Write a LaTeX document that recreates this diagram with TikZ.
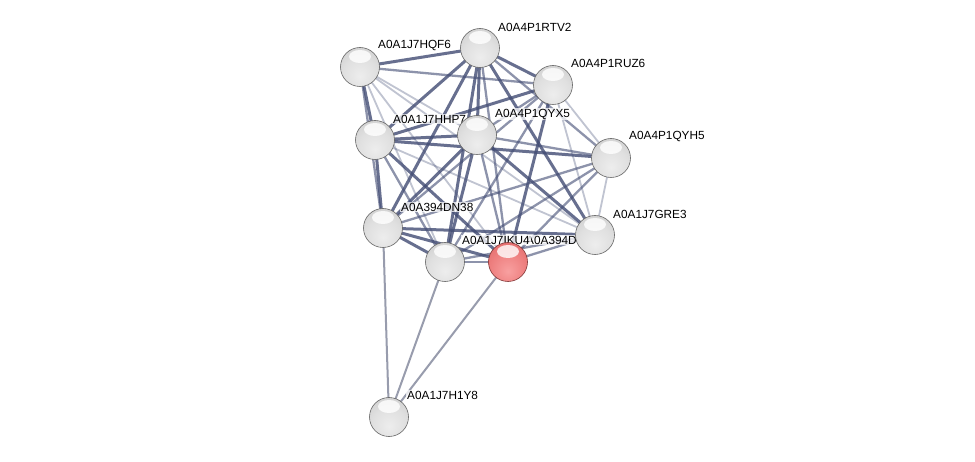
\documentclass[tikz,border=0pt]{standalone}
\usepackage{fontspec}
\setmainfont{Liberation Sans}
\pgfdeclareradialshading{greyball}{\pgfpoint{0bp}{-12bp}}{color(0bp)=(gray!14); color(22bp)=(gray!25); color(42bp)=(gray!42); color(54bp)=(gray!55); color(61bp)=(gray!70); color(100bp)=(gray!78)}
\pgfdeclareradialshading{redball}{\pgfpoint{0bp}{-12bp}}{color(0bp)=({rgb,255:red,248;green,160;blue,160}); color(22bp)=({rgb,255:red,238;green,128;blue,128}); color(42bp)=({rgb,255:red,222;green,100;blue,100}); color(54bp)=({rgb,255:red,200;green,84;blue,84}); color(61bp)=({rgb,255:red,165;green,62;blue,62}); color(100bp)=({rgb,255:red,145;green,52;blue,52})}
\begin{document}
\begin{tikzpicture}[x=1pt,y=-1pt]
\definecolor{edgecol}{RGB}{66,76,116}
\tikzset{
  prot/.style={circle,minimum size=39pt,inner sep=0pt,shading=greyball,draw=gray!80!black,line width=0.6pt},
  query/.style={prot,shading=redball,draw={rgb,255:red,130;green,55;blue,55}},
  hl/.style={fill=white,fill opacity=0.8},
  lbl/.style={anchor=west,font=\fontsize{11.8}{13}\selectfont,fill=white,fill opacity=0.75,text opacity=1,inner sep=1pt},
  es/.style={draw=edgecol,line width=3pt,draw opacity=0.8},
  em/.style={draw=edgecol,line width=2.3pt,draw opacity=0.6},
  ew/.style={draw=edgecol,line width=1.8pt,draw opacity=0.33},
  eh/.style={draw=edgecol!70!gray,line width=2pt,draw opacity=0.6}
}
\useasboundingbox (0,0) rectangle (975,462);
\fill[white] (0,0) rectangle (975,462);
% coordinates of centres
\coordinate (hqf6) at (360,67);
\coordinate (rtv2) at (480,48);
\coordinate (ruz6) at (553,85);
\coordinate (hhp7) at (375,140);
\coordinate (qyx5) at (477,135);
\coordinate (qyh5) at (611,158);
\coordinate (dn38) at (383,228);
\coordinate (gre3) at (595,235);
\coordinate (iku4) at (445,262);
\coordinate (redn) at (508,262);
\coordinate (h1y8) at (389,417);
% edges
\draw[ew] (hqf6) -- (qyx5);
\draw[ew] (hqf6) -- (iku4);
\draw[ew] (hqf6) -- (redn);
\draw[ew] (hqf6) -- (gre3);
\draw[ew] (ruz6) -- (qyh5);
\draw[ew] (ruz6) -- (gre3);
\draw[ew] (hhp7) -- (gre3);
\draw[ew] (qyh5) -- (gre3);
\draw[em] (hqf6) -- (ruz6);
\draw[em] (hqf6) -- (dn38);
\draw[em] (rtv2) -- (redn);
\draw[em] (rtv2) -- (qyh5);
\draw[em] (ruz6) -- (qyx5);
\draw[em] (ruz6) -- (dn38);
\draw[em] (ruz6) -- (iku4);
\draw[em] (hhp7) -- (iku4);
\draw[em] (qyx5) -- (qyh5);
\draw[em] (qyx5) -- (redn);
\draw[em] (qyh5) -- (dn38);
\draw[em] (qyh5) -- (iku4);
\draw[em] (qyh5) -- (redn);
\draw[em] (iku4) -- (redn);
\draw[em] (iku4) -- (gre3);
\draw[em] (redn) -- (gre3);
\draw[es] (hqf6) -- (rtv2);
\draw[es] (hqf6) -- (hhp7);
\draw[es] (rtv2) -- (ruz6);
\draw[es] (rtv2) -- (qyx5);
\draw[es] (rtv2) -- (hhp7);
\draw[es] (rtv2) -- (dn38);
\draw[es] (rtv2) -- (iku4);
\draw[es] (rtv2) -- (gre3);
\draw[es] (ruz6) -- (hhp7);
\draw[es] (ruz6) -- (redn);
\draw[es] (hhp7) -- (qyx5);
\draw[es] (hhp7) -- (qyh5);
\draw[es] (hhp7) -- (dn38);
\draw[es] (hhp7) -- (redn);
\draw[es] (qyx5) -- (dn38);
\draw[es] (qyx5) -- (iku4);
\draw[es] (qyx5) -- (gre3);
\draw[es] (dn38) -- (iku4);
\draw[es] (dn38) -- (redn);
\draw[es] (dn38) -- (gre3);
\draw[eh] (h1y8) -- (dn38);
\draw[eh] (h1y8) -- (iku4);
\draw[eh] (h1y8) -- (redn);
% labels
\node[lbl] (lhqf6) at (377,45) {A0A1J7HQF6};
\node[lbl] (lrtv2) at (497,27) {A0A4P1RTV2};
\node[lbl] (lruz6) at (570,63) {A0A4P1RUZ6};
\node[lbl] (lhhp7) at (392,119) {A0A1J7HHP7};
\node[lbl] (lqyx5) at (494,114) {A0A4P1QYX5};
\node[lbl] (lqyh5) at (628,136) {A0A4P1QYH5};
\node[lbl] (ldn38) at (400,207) {A0A394DN38};
\node[lbl] (lgre3) at (612,214) {A0A1J7GRE3};
\node[lbl] (lred) at (525,240) {A0A394D};
\node[lbl] (liku4) at (461,240) {A0A1J7IKU4};
\node[lbl] (lh1y8) at (406,395) {A0A1J7H1Y8};
% proteins
\node[prot] (nhqf6) at (hqf6) {};
\node[prot] (nrtv2) at (rtv2) {};
\node[prot] (nruz6) at (ruz6) {};
\node[prot] (nhhp7) at (hhp7) {};
\node[prot] (nqyx5) at (qyx5) {};
\node[prot] (nqyh5) at (qyh5) {};
\node[prot] (ndn38) at (dn38) {};
\node[prot] (ngre3) at (gre3) {};
\node[prot] (niku4) at (iku4) {};
\node[query] (nred) at (redn) {};
\node[prot] (nh1y8) at (h1y8) {};
% highlights
\foreach \c in {hqf6,rtv2,ruz6,hhp7,qyx5,qyh5,dn38,gre3,iku4,redn,h1y8}
  \fill[hl] ([yshift=10.5pt]\c) ellipse (11 and 6.5);
\end{tikzpicture}
\end{document}
